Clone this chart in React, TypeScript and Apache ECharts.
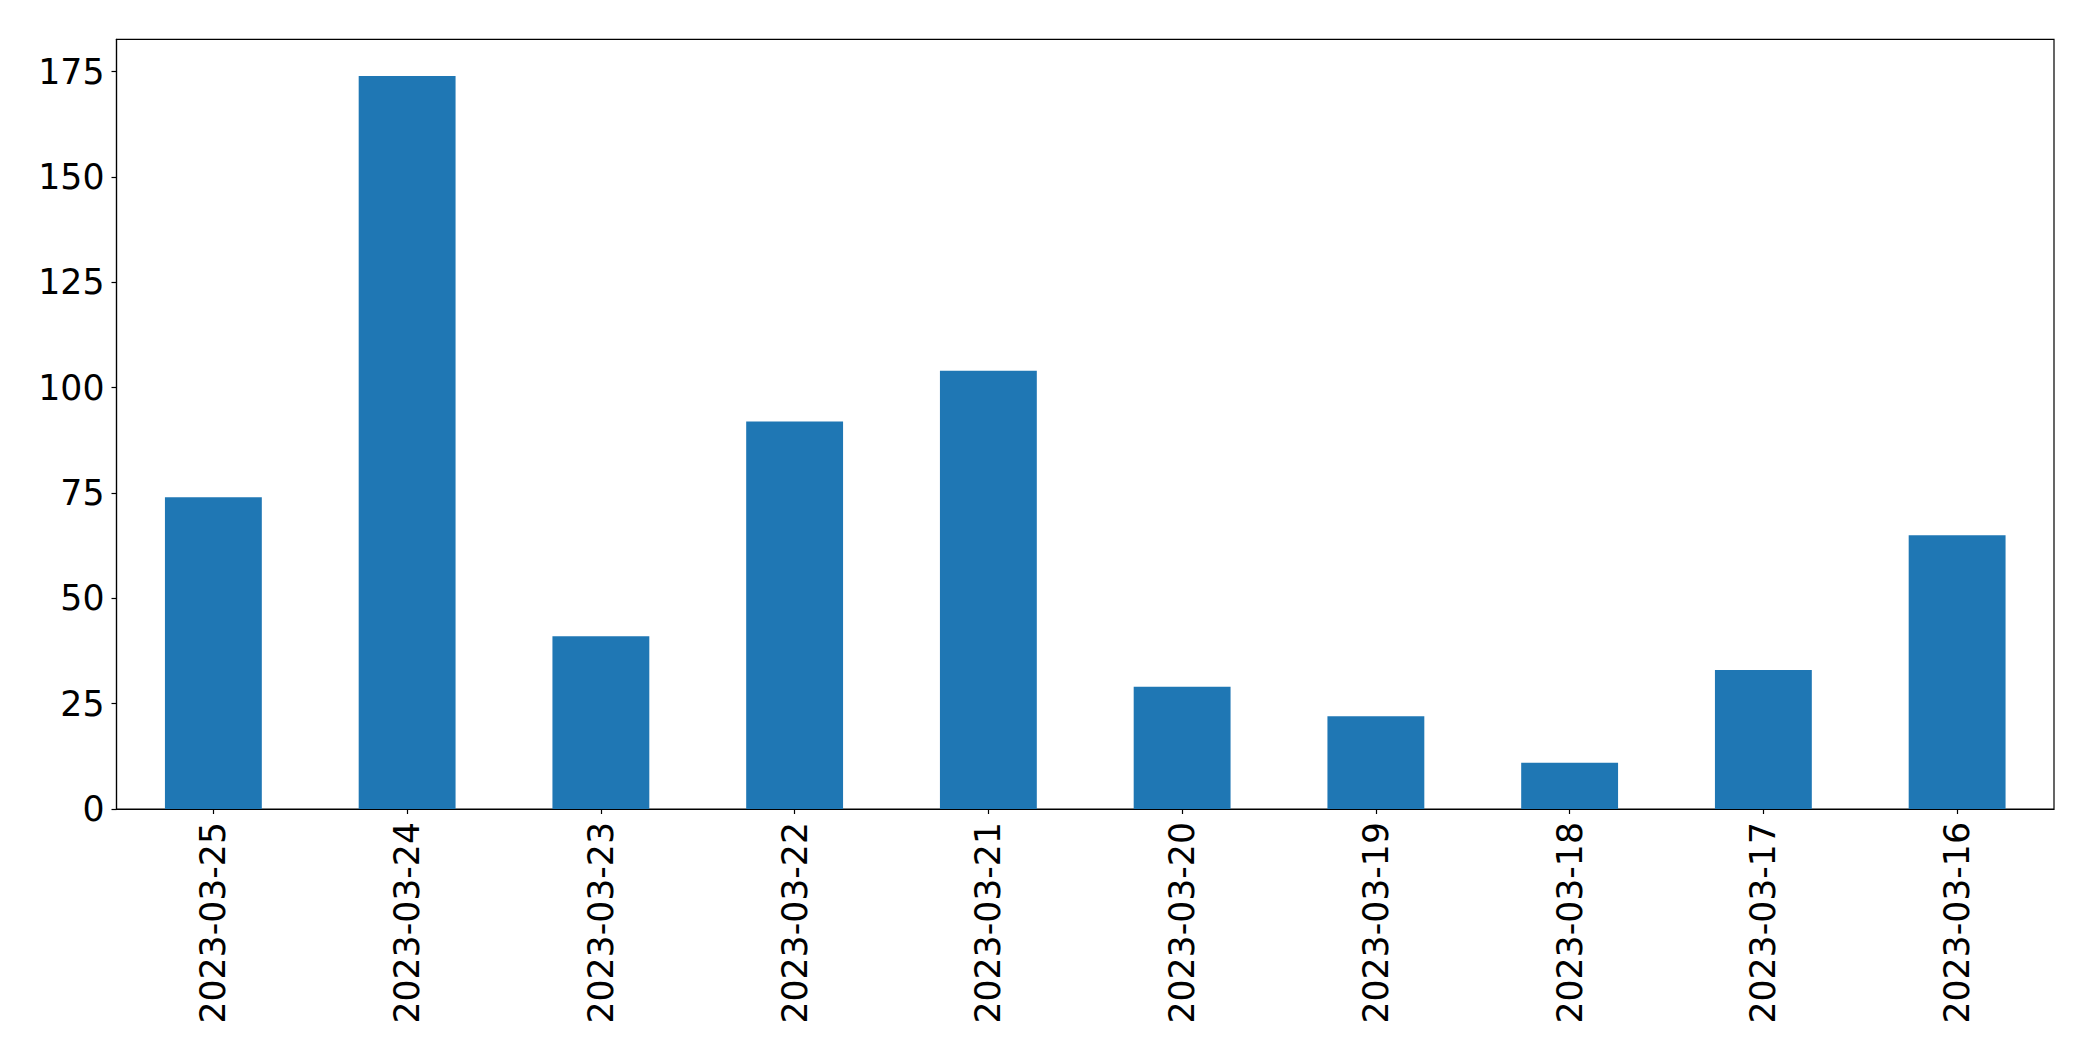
import React, { useEffect, useRef } from "react";
import * as echarts from "echarts";

const categories: string[] = [
  "2023-03-25",
  "2023-03-24",
  "2023-03-23",
  "2023-03-22",
  "2023-03-21",
  "2023-03-20",
  "2023-03-19",
  "2023-03-18",
  "2023-03-17",
  "2023-03-16",
];
const counts: number[] = [74, 174, 41, 92, 104, 29, 22, 11, 33, 65];
const yMin = 0;
const yMax = 182.7;
const yStep = 25;

export default function App() {
  const ref = useRef<HTMLDivElement>(null);
  useEffect(() => {
    if (!ref.current) return;
    const chart = echarts.init(ref.current, undefined, { renderer: "svg" });
    const font = "DejaVu Sans";
    chart.setOption({
      animation: false,
      backgroundColor: "#ffffff",
      grid: {
        left: 116.5,
        top: 39.3,
        right: 39,
        bottom: 252,
        show: true,
        borderColor: "#000000",
        borderWidth: 1.2,
        backgroundColor: "transparent",
      },
      xAxis: {
        type: "category",
        data: categories,
        boundaryGap: true,
        axisLine: { show: true, lineStyle: { color: "#000000", width: 1.2 } },
        axisTick: { show: true, alignWithLabel: true, length: 5, lineStyle: { color: "#000000", width: 1.2 } },
        axisLabel: {
          rotate: 90,
          interval: 0,
          margin: 13,
          color: "#000000",
          fontFamily: font,
          fontSize: 34.7,
        },
        splitLine: { show: false },
      },
      yAxis: {
        type: "value",
        min: yMin,
        max: yMax,
        interval: yStep,
        axisLine: { show: true, lineStyle: { color: "#000000", width: 1.2 } },
        axisTick: { show: true, length: 5, lineStyle: { color: "#000000", width: 1.2 } },
        axisLabel: {
          margin: 12,
          color: "#000000",
          fontFamily: font,
          fontSize: 34.7,
          showMaxLabel: false,
        },
        splitLine: { show: false },
      },
      series: [
        {
          type: "bar",
          data: counts,
          barWidth: "50%",
          itemStyle: { color: "#1f77b4" },
        },
      ],
    });
    return () => chart.dispose();
  }, []);
  return (
    <div
      ref={ref}
      style={{ position: "absolute", left: 0, top: 0, width: 2093, height: 1061, background: "#fff" }}
    />
  );
}
